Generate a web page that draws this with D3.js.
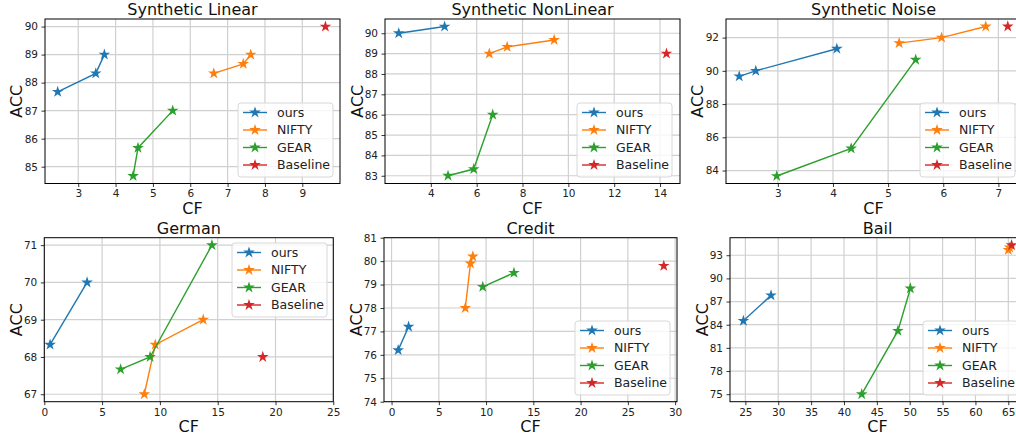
<!DOCTYPE html>
<meta charset="utf-8">
<style>
  body { margin: 0; background: #fff; }
  svg { font-family: "DejaVu Sans", sans-serif; }
  .grid line { stroke: #d0d0d0; stroke-width: 1.2; }
  .axis path { display: none; }
  .axis line { stroke: #000; stroke-width: 0.8; }
  .axis text { font-size: 10.5px; fill: #222; font-family: "DejaVu Sans", sans-serif; }
</style>
<script src="https://d3js.org/d3.v7.min.js"></script>
<div id="chart"></div>
<script>
  // method names + tab10 colours
  var methods = ["ours", "NIFTY", "GEAR", "Baseline"];
  var colors = ["#1f77b4", "#ff7f0e", "#2ca02c", "#d62728"];

  // each panel: one entry per method, CF values and ACC values
  var synLinear = [
    {method: "ours", cf: [2.45, 3.47, 3.7], acc: [87.67, 88.33, 89]},
    {method: "NIFTY", cf: [6.63, 7.42, 7.62], acc: [88.33, 88.67, 89]},
    {method: "GEAR", cf: [4.47, 4.6, 5.53], acc: [84.67, 85.67, 87]},
    {method: "Baseline", cf: [9.62], acc: [90]}
  ];
  var synNonLinear = [
    {method: "ours", cf: [2.6, 4.6], acc: [90, 90.33]},
    {method: "NIFTY", cf: [6.55, 7.33, 9.38], acc: [89, 89.33, 89.67]},
    {method: "GEAR", cf: [4.75, 5.87, 6.7], acc: [83, 83.33, 86]},
    {method: "Baseline", cf: [14.28], acc: [89]}
  ];
  var synNoise = [
    {method: "ours", cf: [2.3, 2.6, 4.07], acc: [89.67, 90, 91.33]},
    {method: "NIFTY", cf: [5.2, 5.97, 6.77], acc: [91.67, 92, 92.67]},
    {method: "GEAR", cf: [2.98, 4.33, 5.5], acc: [83.67, 85.33, 90.67]},
    {method: "Baseline", cf: [7.17], acc: [92.67]}
  ];
  var german = [
    {method: "ours", cf: [0.5, 3.7], acc: [68.33, 70]},
    {method: "NIFTY", cf: [8.65, 9.6, 13.75], acc: [67, 68.33, 69]},
    {method: "GEAR", cf: [6.6, 9.15, 14.5], acc: [67.67, 68, 71]},
    {method: "Baseline", cf: [18.9], acc: [68]}
  ];
  var credit = [
    {method: "ours", cf: [0.7, 1.8], acc: [76.2, 77.2]},
    {method: "NIFTY", cf: [7.8, 8.35, 8.6], acc: [78, 79.9, 80.2]},
    {method: "GEAR", cf: [9.65, 12.95], acc: [78.9, 79.5]},
    {method: "Baseline", cf: [28.8], acc: [79.8]}
  ];
  var bail = [
    {method: "ours", cf: [24.7, 28.9], acc: [84.5, 87.8]},
    {method: "NIFTY", cf: [65.0, 65.2], acc: [93.7, 94.0]},
    {method: "GEAR", cf: [42.7, 48.2, 50.1], acc: [75, 83.2, 88.7]},
    {method: "Baseline", cf: [65.5], acc: [94.3]}
  ];

  // tick labels
  var synLinearXTicks = [3, 4, 5, 6, 7, 8, 9], synLinearYTicks = [85, 86, 87, 88, 89, 90];
  var synNonLinearXTicks = [4, 6, 8, 10, 12, 14], synNonLinearYTicks = [83, 84, 85, 86, 87, 88, 89, 90];
  var synNoiseXTicks = [3, 4, 5, 6, 7], synNoiseYTicks = [84, 86, 88, 90, 92];
  var germanXTicks = [0, 5, 10, 15, 20, 25], germanYTicks = [67, 68, 69, 70, 71];
  var creditXTicks = [0, 5, 10, 15, 20, 25, 30], creditYTicks = [74, 75, 76, 77, 78, 79, 80, 81];
  var bailXTicks = [25, 30, 35, 40, 45, 50, 55, 60, 65], bailYTicks = [75, 78, 81, 84, 87, 90, 93];

  var W = 1016, H = 436;
  var svg = d3.select("#chart").append("svg")
      .attr("width", W).attr("height", H);

  var color = d3.scaleOrdinal().domain(methods).range(colors);
  var star = d3.symbol().type(d3.symbolStar).size(42);

  var row1 = {top: 19, bottom: 183.5}, row2 = {top: 237.7, bottom: 401.7};

  var panels = [
    {title: "Synthetic Linear", data: synLinear, xt: synLinearXTicks, yt: synLinearYTicks,
     xr: [45, 340], xd: [2.11, 10.01], yd: [84.4, 90.27], row: row1, labX: 22, leg: [238, 103]},
    {title: "Synthetic NonLinear", data: synNonLinear, xt: synNonLinearXTicks, yt: synNonLinearYTicks,
     xr: [385, 680], xd: [2.0, 14.87], yd: [82.62, 90.70], row: row1, labX: 363, leg: [577, 103]},
    {title: "Synthetic Noise", data: synNoise, xt: synNoiseXTicks, yt: synNoiseYTicks,
     xr: [726, 1021], xd: [2.06, 7.41], yd: [83.22, 93.12], row: row1, labX: 703, leg: [920, 103]},
    {title: "German", data: german, xt: germanXTicks, yt: germanYTicks,
     xr: [44.3, 333.3], xd: [0, 25], yd: [66.8, 71.2], row: row2, labX: 22, leg: [232, 243]},
    {title: "Credit", data: credit, xt: creditXTicks, yt: creditYTicks,
     xr: [384, 677], xd: [-0.8, 30.2], yd: [74, 81], row: row2, labX: 362, leg: [575, 321]},
    {title: "Bail", data: bail, xt: bailXTicks, yt: bailYTicks,
     xr: [730, 1025], xd: [22.66, 67.54], yd: [74.03, 95.27], row: row2, labX: 708, leg: [923, 321]}
  ];

  panels.forEach(function(p) {
    var x = d3.scaleLinear().domain(p.xd).range(p.xr);
    var y = d3.scaleLinear().domain(p.yd).range([p.row.bottom, p.row.top]);
    var g = svg.append("g");
    var x0 = p.xr[0], x1 = p.xr[1], y0 = p.row.top, y1 = p.row.bottom;

    // grid
    g.append("g").attr("class", "grid")
      .selectAll("line.v").data(p.xt).enter().append("line")
        .attr("x1", function(d) { return x(d); }).attr("x2", function(d) { return x(d); })
        .attr("y1", y0).attr("y2", y1);
    g.append("g").attr("class", "grid")
      .selectAll("line.h").data(p.yt).enter().append("line")
        .attr("y1", function(d) { return y(d); }).attr("y2", function(d) { return y(d); })
        .attr("x1", x0).attr("x2", x1);

    // axes
    g.append("g").attr("class", "axis")
      .attr("transform", "translate(0," + y1 + ")")
      .call(d3.axisBottom(x).tickValues(p.xt).tickSize(3.5).tickPadding(3).tickFormat(d3.format("d")));
    g.append("g").attr("class", "axis")
      .attr("transform", "translate(" + x0 + ",0)")
      .call(d3.axisLeft(y).tickValues(p.yt).tickSize(3.5).tickPadding(3.5).tickFormat(d3.format("d")));

    // series
    var line = d3.line()
      .x(function(d) { return x(d[0]); })
      .y(function(d) { return y(d[1]); });
    p.data.forEach(function(s) {
      var pts = s.cf.map(function(c, i) { return [c, s.acc[i]]; });
      if (pts.length > 1) {
        g.append("path")
          .attr("d", line(pts))
          .attr("fill", "none")
          .attr("stroke", color(s.method))
          .attr("stroke-width", 1.4);
      }
      g.selectAll(null).data(pts).enter().append("path")
        .attr("d", star)
        .attr("transform", function(d) { return "translate(" + x(d[0]) + "," + y(d[1]) + ")"; })
        .attr("fill", color(s.method));
    });

    // spines
    g.append("rect")
      .attr("x", x0).attr("y", y0)
      .attr("width", x1 - x0).attr("height", y1 - y0)
      .attr("fill", "none").attr("stroke", "#000").attr("stroke-width", 1);

    // legend
    var lx = p.leg[0], ly = p.leg[1];
    var leg = g.append("g").attr("transform", "translate(" + lx + "," + ly + ")");
    leg.append("rect")
      .attr("width", 95).attr("height", 74).attr("rx", 3)
      .attr("fill", "#fff").attr("fill-opacity", 0.8)
      .attr("stroke", "#d8d8d8").attr("stroke-width", 1);
    methods.forEach(function(m, i) {
      var ry = 9.5 + i * 17.5;
      leg.append("line")
        .attr("x1", 5).attr("x2", 29).attr("y1", ry).attr("y2", ry)
        .attr("stroke", color(m)).attr("stroke-width", 1.4);
      leg.append("path").attr("d", star)
        .attr("transform", "translate(17," + ry + ")")
        .attr("fill", color(m));
      leg.append("text")
        .attr("x", 39).attr("y", ry).attr("dy", "0.35em")
        .style("font-size", "12.5px").attr("fill", "#222")
        .text(m);
    });

    // titles and labels
    var cx = (x0 + x1) / 2;
    g.append("text")
      .attr("x", cx).attr("y", y0 - 4)
      .attr("text-anchor", "middle")
      .style("font-size", "16px").attr("fill", "#111")
      .text(p.title);
    g.append("text")
      .attr("x", cx).attr("y", y1 + 30)
      .attr("text-anchor", "middle")
      .style("font-size", "16px").attr("fill", "#111")
      .text("CF");
    g.append("text")
      .attr("transform", "translate(" + p.labX + "," + ((y0 + y1) / 2) + ") rotate(-90)")
      .attr("text-anchor", "middle")
      .style("font-size", "16px").attr("fill", "#111")
      .text("ACC");
  });
</script>
